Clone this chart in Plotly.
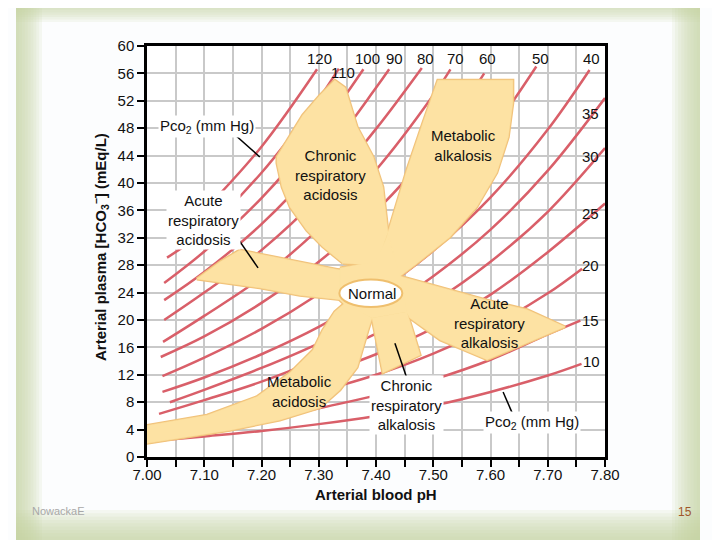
import plotly.graph_objects as go

# ---------------- axis ticks ----------------
ph_ticks = [7.00, 7.05, 7.10, 7.15, 7.20, 7.25, 7.30, 7.35, 7.40, 7.45, 7.50, 7.55, 7.60, 7.65, 7.70, 7.75, 7.80]
ph_tick_text = ["7.00", " ", "7.10", " ", "7.20", " ", "7.30", " ", "7.40", " ", "7.50", " ", "7.60", " ", "7.70", " ", "7.80"]
hco3_ticks = [0, 4, 8, 12, 16, 20, 24, 28, 32, 36, 40, 44, 48, 52, 56, 60]

# ---------------- Pco2 isobars (pH, HCO3) ----------------
pco2_values = [120, 110, 100, 90, 80, 70, 60, 50, 40, 35, 30, 25, 20, 15, 10]

iso120_ph = [7.05, 7.10, 7.20, 7.297]
iso120_hco3 = [31.9, 36.0, 45.3, 56.6]
iso110_ph = [7.035, 7.10, 7.20, 7.30, 7.335]
iso110_hco3 = [29.1, 33.0, 41.5, 52.3, 56.7]
iso100_ph = [7.03, 7.10, 7.20, 7.30, 7.378]
iso100_hco3 = [25.4, 30.0, 37.8, 47.5, 56.6]
iso90_ph = [7.03, 7.10, 7.20, 7.30, 7.40, 7.423]
iso90_hco3 = [22.9, 27.0, 34.0, 42.8, 53.9, 56.6]
iso80_ph = [7.03, 7.10, 7.20, 7.30, 7.40, 7.48]
iso80_hco3 = [20.0, 24.0, 30.2, 38.0, 47.9, 56.8]
iso70_ph = [7.028, 7.10, 7.20, 7.30, 7.40, 7.50, 7.53]
iso70_hco3 = [16.8, 20.6, 26.2, 33.3, 41.9, 52.8, 56.6]
iso60_ph = [7.024, 7.10, 7.20, 7.30, 7.40, 7.50, 7.589]
iso60_hco3 = [14.6, 17.6, 22.5, 28.5, 35.9, 45.2, 56.0]
iso50_ph = [7.027, 7.10, 7.20, 7.30, 7.40, 7.50, 7.60, 7.68]
iso50_hco3 = [11.8, 14.5, 18.7, 23.8, 29.9, 37.7, 47.4, 57.0]
iso40_ph = [7.027, 7.10, 7.20, 7.30, 7.40, 7.50, 7.60, 7.70, 7.773]
iso40_hco3 = [9.5, 11.6, 15.0, 19.0, 23.9, 30.1, 37.9, 47.8, 56.5]
iso35_ph = [7.04, 7.10, 7.20, 7.30, 7.40, 7.50, 7.60, 7.70, 7.80]
iso35_hco3 = [8.0, 9.8, 13.0, 16.6, 20.9, 26.4, 33.2, 41.8, 52.4]
iso30_ph = [7.021, 7.10, 7.20, 7.30, 7.40, 7.50, 7.60, 7.70, 7.80]
iso30_hco3 = [6.3, 8.3, 11.0, 14.3, 18.0, 22.6, 28.5, 35.8, 45.1]
iso25_ph = [7.03, 7.10, 7.20, 7.30, 7.40, 7.50, 7.60, 7.70, 7.80]
iso25_hco3 = [4.0, 5.6, 8.8, 11.9, 15.0, 18.8, 23.7, 29.9, 37.0]
iso20_ph = [7.03, 7.10, 7.20, 7.30, 7.40, 7.50, 7.60, 7.70, 7.76]
iso20_hco3 = [3.2, 4.5, 6.8, 9.5, 12.0, 15.1, 19.0, 23.9, 27.5]
iso15_ph = [7.03, 7.10, 7.20, 7.30, 7.40, 7.50, 7.60, 7.70, 7.757]
iso15_hco3 = [2.6, 3.6, 5.2, 7.1, 9.0, 11.3, 14.2, 17.9, 19.9]
iso10_ph = [7.02, 7.10, 7.20, 7.30, 7.40, 7.50, 7.60, 7.70, 7.759]
iso10_hco3 = [2.4, 3.0, 3.8, 4.8, 6.0, 7.5, 9.5, 11.9, 13.6]

isobar_ph = [iso120_ph, iso110_ph, iso100_ph, iso90_ph, iso80_ph, iso70_ph, iso60_ph, iso50_ph,
             iso40_ph, iso35_ph, iso30_ph, iso25_ph, iso20_ph, iso15_ph, iso10_ph]
isobar_hco3 = [iso120_hco3, iso110_hco3, iso100_hco3, iso90_hco3, iso80_hco3, iso70_hco3, iso60_hco3,
               iso50_hco3, iso40_hco3, iso35_hco3, iso30_hco3, iso25_hco3, iso20_hco3, iso15_hco3, iso10_hco3]

# ---------------- disorder regions (polygon outlines, pH / HCO3) ----------------
acute_acid_ph = [7.087, 7.128, 7.162, 7.180, 7.267, 7.337, 7.346, 7.267, 7.197]
acute_acid_hco3 = [26.0, 28.5, 30.2, 29.9, 28.5, 27.3, 22.9, 23.6, 24.7]

chronic_acid_ph = [7.342, 7.307, 7.279, 7.250, 7.236, 7.227, 7.227, 7.250, 7.272, 7.302, 7.328,
                   7.346, 7.367, 7.395, 7.412, 7.421, 7.400]
chronic_acid_hco3 = [28.3, 30.7, 33.1, 36.5, 39.4, 42.9, 43.8, 47.0, 49.9, 52.8, 55.0,
                     53.9, 48.2, 43.8, 39.4, 32.8, 28.0]

met_alk_ph = [7.421, 7.454, 7.482, 7.508, 7.639, 7.639, 7.631, 7.611, 7.576, 7.529, 7.472, 7.442, 7.407]
met_alk_hco3 = [32.8, 41.9, 48.8, 55.0, 55.0, 51.7, 46.7, 41.5, 36.5, 32.1, 28.3, 26.4, 28.4]

acute_alk_ph = [7.442, 7.512, 7.594, 7.664, 7.730, 7.594, 7.512, 7.459, 7.442]
acute_alk_hco3 = [26.4, 24.8, 22.9, 21.5, 19.0, 14.2, 17.1, 20.3, 22.9]

chronic_alk_ph = [7.393, 7.412, 7.477, 7.454]
chronic_alk_hco3 = [20.3, 12.3, 14.9, 21.2]

center_ph = [7.337, 7.398, 7.421, 7.442, 7.454, 7.393, 7.346, 7.337]
center_hco3 = [27.6, 28.5, 32.4, 26.4, 21.2, 20.3, 22.2, 22.9]

met_acid_ph = [7.0, 7.105, 7.192, 7.250, 7.290, 7.307, 7.328, 7.346, 7.393, 7.386, 7.367,
               7.337, 7.302, 7.232, 7.145, 7.0]
met_acid_hco3 = [4.6, 6.1, 8.8, 12.3, 15.6, 18.5, 21.2, 22.5, 20.3, 18.5, 13.1,
                 9.8, 7.2, 5.4, 3.9, 2.0]

regions_ph = [acute_acid_ph, chronic_acid_ph, met_alk_ph, acute_alk_ph, chronic_alk_ph, center_ph, met_acid_ph]
regions_hco3 = [acute_acid_hco3, chronic_acid_hco3, met_alk_hco3, acute_alk_hco3, chronic_alk_hco3,
                center_hco3, met_acid_hco3]

# ---------------- styles ----------------
FONT = "Liberation Sans, Arial, sans-serif"
ISO_COLOR = "#d95f69"
FILL = "#fde2a3"
EDGE = "#f1c27a"
FS = 15

fig = go.Figure()

for xs, ys in zip(isobar_ph, isobar_hco3):
    fig.add_trace(go.Scatter(x=xs, y=ys, mode="lines", line=dict(color=ISO_COLOR, width=2.5, shape="spline"),
                             hoverinfo="skip", showlegend=False))

# outlines first, then fills on top -> union outline
for xs, ys in zip(regions_ph, regions_hco3):
    fig.add_trace(go.Scatter(x=xs + xs[:1], y=ys + ys[:1], mode="lines", line=dict(color=EDGE, width=3),
                             hoverinfo="skip", showlegend=False))
for xs, ys in zip(regions_ph, regions_hco3):
    fig.add_trace(go.Scatter(x=xs + xs[:1], y=ys + ys[:1], mode="lines", fill="toself", fillcolor=FILL,
                             line=dict(color=FILL, width=0.5), hoverinfo="skip", showlegend=False))

# Normal ellipse
fig.add_shape(type="circle", xref="x", yref="y", x0=7.336, x1=7.446, y0=21.9, y1=25.9,
              fillcolor="white", line=dict(color="#efbf6e", width=2))

# leader lines
for (x0, y0, x1, y1) in [(7.150, 47.3, 7.197, 43.8), (7.157, 32.1, 7.194, 27.6),
                         (7.433, 16.6, 7.454, 11.5), (7.622, 9.5, 7.638, 6.4)]:
    fig.add_shape(type="line", xref="x", yref="y", x0=x0, y0=y0, x1=x1, y1=y1,
                  line=dict(color="black", width=1.5))

ann = []
def txt(x, y, s, size=FS, bg=None, **kw):
    d = dict(x=x, y=y, xref="x", yref="y", text=s, showarrow=False,
             font=dict(family=FONT, size=size, color="#111111"))
    if bg:
        d["bgcolor"] = bg
    d.update(kw)
    ann.append(d)

txt(7.320, 41.2, "Chronic<br>respiratory<br>acidosis")
txt(7.552, 45.5, "Metabolic<br>alkalosis")
txt(7.098, 34.6, "Acute<br>respiratory<br>acidosis", bg="white")
txt(7.393, 23.9, "Normal")
txt(7.599, 19.6, "Acute<br>respiratory<br>alkalosis")
txt(7.454, 7.6, "Chronic<br>respiratory<br>alkalosis", bg="white")
txt(7.267, 9.5, "Metabolic<br>acidosis")
txt(7.105, 48.2, "Pco<sub>2</sub> (mm Hg)", bg="white")
txt(7.672, 5.0, "Pco<sub>2</sub> (mm Hg)", bg="white")

# isobar labels
label_ph = [7.302, 7.342, 7.386, 7.433, 7.486, 7.538, 7.594, 7.688, 7.776,
            7.774, 7.774, 7.774, 7.774, 7.774, 7.776]
label_hco3 = [58.2, 56.1, 58.2, 58.2, 58.2, 58.2, 58.2, 58.2, 58.2,
              50.2, 43.8, 35.6, 27.9, 20.0, 13.9]
for p, lx, ly in zip(pco2_values, label_ph, label_hco3):
    txt(lx, ly, str(p))

# axis titles
ann.append(dict(x=0.5, y=(457 - 494) / 411, xref="paper", yref="paper", text="<b>Arterial blood pH</b>",
                showarrow=False, font=dict(family=FONT, size=15, color="#111111"), yanchor="middle"))
ann.append(dict(x=(101 - 147) / 458, y=(457 - 247) / 411, xref="paper", yref="paper",
                text="<b>Arterial plasma [HCO<sub>3</sub><sup>−</sup>] (mEq/L)</b>", showarrow=False,
                textangle=-90, font=dict(family=FONT, size=15, color="#111111"), xanchor="center"))

# slide footer texts
ann.append(dict(x=(30 - 147) / 458, y=(457 - 519) / 411, xref="paper", yref="paper", text="NowackaE",
                showarrow=False, xanchor="left", font=dict(family=FONT, size=11, color="#a8a8a8")))
ann.append(dict(x=(694 - 147) / 458, y=(457 - 521) / 411, xref="paper", yref="paper", text="15",
                showarrow=False, font=dict(family=FONT, size=12, color="#a0562a")))

# ---------------- slide frame (soft green gradient) ----------------
def px(x):
    return (x - 147) / 458
def py(y):
    return (457 - y) / 411

frame = []
G = "rgba(200,214,160,0.14)"
n = 9
for k in range(n):
    w = (k + 1) / n
    frame.append(dict(type="rect", xref="paper", yref="paper", x0=px(16), x1=px(16 + 26 * w), y0=py(540), y1=py(0),
                      fillcolor=G, line=dict(width=0), layer="below"))
    frame.append(dict(type="rect", xref="paper", yref="paper", x0=px(16), x1=px(700), y0=py(0), y1=py(0 + 22 * w),
                      fillcolor=G, line=dict(width=0), layer="below"))
    frame.append(dict(type="rect", xref="paper", yref="paper", x0=px(700 - 28 * w), x1=px(700), y0=py(540), y1=py(0),
                      fillcolor=G, line=dict(width=0), layer="below"))
    frame.append(dict(type="rect", xref="paper", yref="paper", x0=px(16), x1=px(700), y0=py(540 - 30 * w), y1=py(540),
                      fillcolor=G, line=dict(width=0), layer="below"))
for s in frame:
    fig.add_shape(**s)

# page has an 8px body margin: figure is 712x532 placed at (8, 8)
fig.update_layout(
    width=712, height=532, autosize=False,
    margin=dict(l=139, r=115, t=38, b=83),
    paper_bgcolor="#fcfdfe", plot_bgcolor="white",
    annotations=ann, showlegend=False,
    xaxis=dict(range=[7.0, 7.8], tickvals=ph_ticks, ticktext=ph_tick_text, showgrid=True,
               gridcolor="#c9c9c9", gridwidth=2, ticks="outside", ticklen=7, tickwidth=2, tickcolor="black",
               ticklabelstandoff=-5,
               showline=True, linecolor="black", linewidth=2.5, mirror=True, zeroline=False,
               tickfont=dict(family=FONT, size=FS, color="#111111"), fixedrange=True),
    yaxis=dict(range=[0, 60], tickvals=hco3_ticks, showgrid=True, gridcolor="#c9c9c9", gridwidth=2,
               ticks="outside", ticklen=7, tickwidth=2, tickcolor="black",
               showline=True, linecolor="black", linewidth=2.5, mirror=True, zeroline=False,
               tickfont=dict(family=FONT, size=FS, color="#111111"), fixedrange=True),
)

fig.write_html("out.html")
